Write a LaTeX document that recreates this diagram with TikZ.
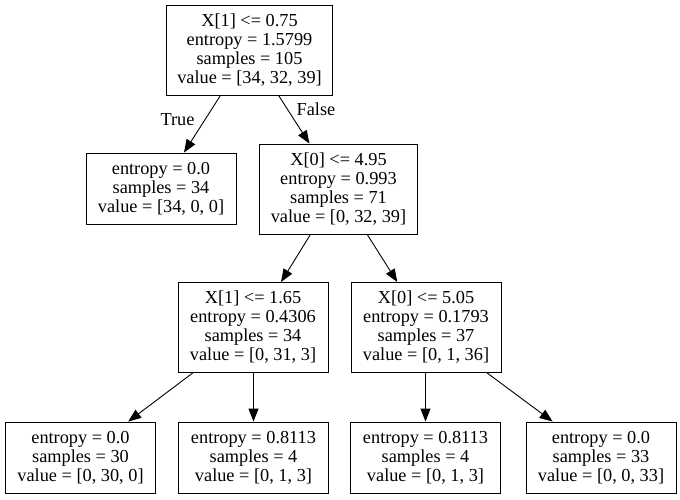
\documentclass[tikz,border=0pt]{standalone}
\usepackage{fontspec}
\setmainfont{Liberation Serif}
\usetikzlibrary{arrows.meta,%
                shapes,positioning}

\begin{document}
\begin{tikzpicture}[x=1pt,y=1pt,
  split/.style={draw,rectangle,align=center,line width=0.9pt,
    inner xsep=11pt,minimum height=90pt,minimum width=150pt,
    font=\fontsize{18.3}{19}\selectfont},
  leaf/.style={split,minimum height=71pt},
  edge/.style={-{Triangle[length=13pt,width=10pt]},line width=0.9pt},
  tag/.style={font=\fontsize{18.3}{19}\selectfont}]
\useasboundingbox (0,0) rectangle (680,-499);
% level 0
\node[split] (root) at (249.5,-50) {X[1] <= 0.75\\entropy = 1.5799\\samples = 105\\value = [34, 32, 39]};
% level 1
\node[leaf] (a) at (161,-188.5) {entropy = 0.0\\samples = 34\\value = [34, 0, 0]};
\node[split] (b) at (338.5,-189) {X[0] <= 4.95\\entropy = 0.993\\samples = 71\\value = [0, 32, 39]};
% level 2
\node[split] (ba) at (253,-327.5) {X[1] <= 1.65\\entropy = 0.4306\\samples = 34\\value = [0, 31, 3]};
\node[split] (bb) at (426,-327.5) {X[0] <= 5.05\\entropy = 0.1793\\samples = 37\\value = [0, 1, 36]};
% level 3
\node[leaf] (baa) at (80.5,-457.5) {entropy = 0.0\\samples = 30\\value = [0, 30, 0]};
\node[leaf] (bab) at (253.5,-457.5) {entropy = 0.8113\\samples = 4\\value = [0, 1, 3]};
\node[leaf] (bba) at (425.5,-457.5) {entropy = 0.8113\\samples = 4\\value = [0, 1, 3]};
\node[leaf] (bbb) at (601,-457.5) {entropy = 0.0\\samples = 33\\value = [0, 0, 33]};
% edges
\draw[edge] (root) -- (a);
\draw[edge] (root) -- (b);
\draw[edge] (b) -- (ba);
\draw[edge] (b) -- (bb);
\draw[edge] (ba) -- (baa);
\draw[edge] (ba.south-|bab) -- (bab);
\draw[edge] (bb.south-|bba) -- (bba);
\draw[edge] (bb) -- (bbb);
\node[tag] (t) at (177.5,-120) {True};
\node[tag] (f) at (316,-109) {False};
\end{tikzpicture}
\end{document}
